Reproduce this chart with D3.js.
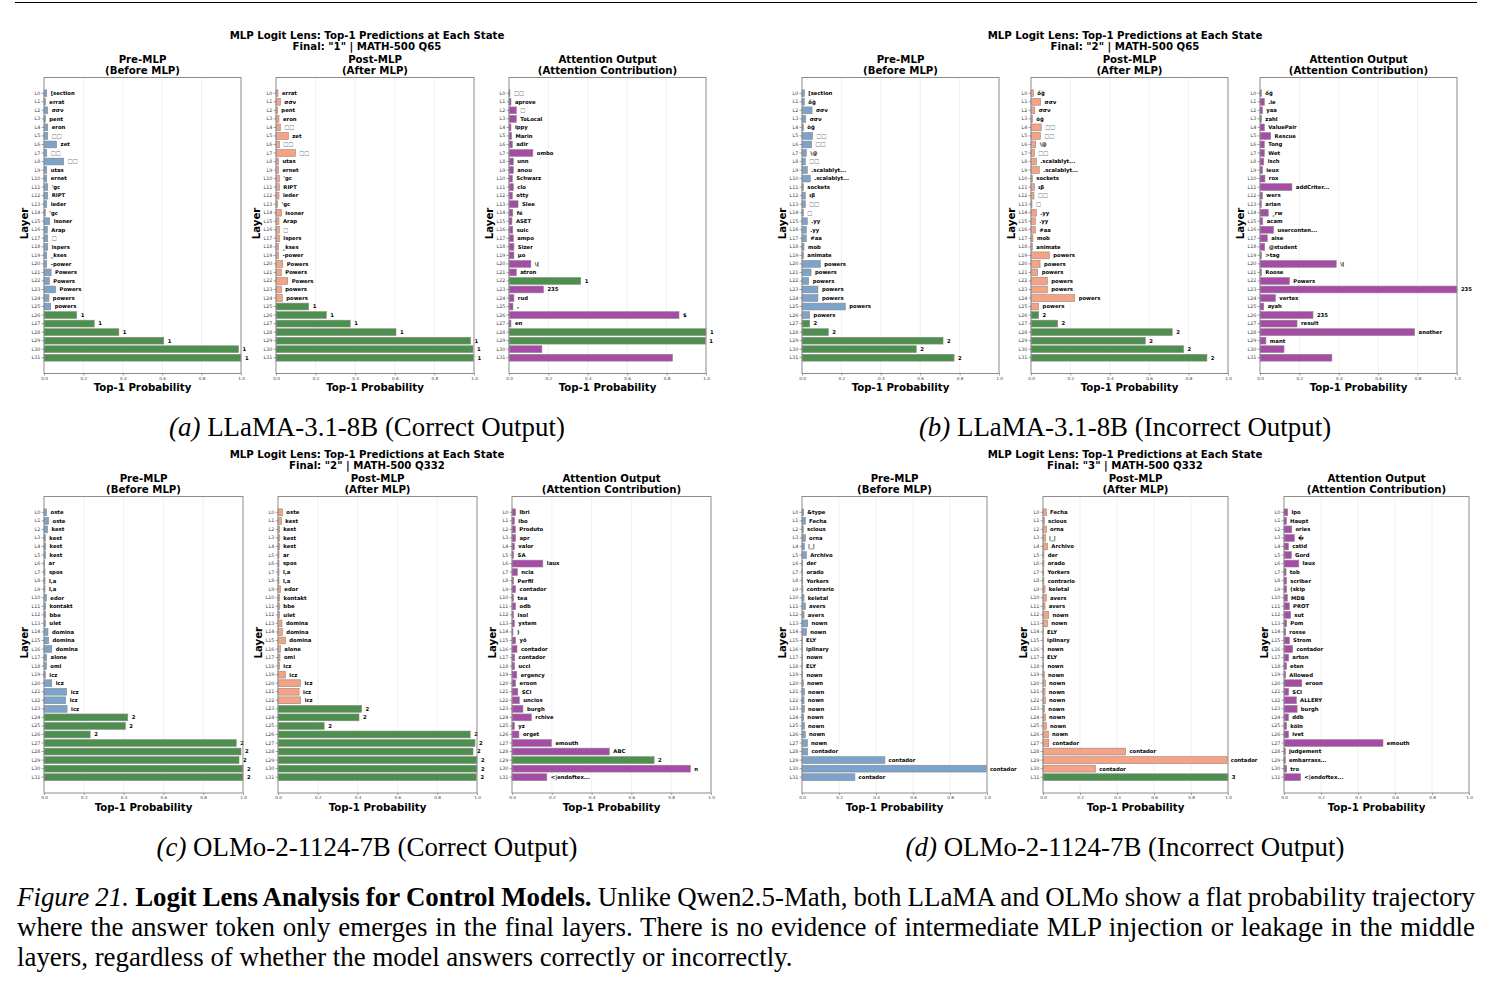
<!DOCTYPE html>
<html>
<head>
<meta charset="utf-8">
<style>
    html, body {
        margin: 0;
        padding: 0;
        background: #ffffff;
    }

    svg {
        display: block;
    }

    .panel text {
        font-family: "DejaVu Sans";
    }

    .caption {
        font-family: "Liberation Serif";
        fill: #000;
    }
</style>
</head>
<body>
<svg id="fig" width="1492" height="988"></svg>

<script src="https://d3js.org/d3.v7.min.js"></script>
<script>
    // ---------- data ----------
    var layerLabels = ["L0", "L1", "L2", "L3", "L4", "L5", "L6", "L7", "L8", "L9", "L10", "L11", "L12", "L13", "L14", "L15",
        "L16", "L17", "L18", "L19", "L20", "L21", "L22", "L23", "L24", "L25", "L26", "L27", "L28", "L29", "L30", "L31"];
    var xTickValues = [0, 0.2, 0.4, 0.6, 0.8, 1.0];

    // (a) LLaMA-3.1-8B, Q65, correct
    var aPreProb = [0.014, 0.007, 0.019, 0.007, 0.019, 0.019, 0.064, 0.014, 0.100, 0.014, 0.014, 0.019, 0.019, 0.014, 0.007, 0.029,
        0.017, 0.019, 0.019, 0.014, 0.014, 0.036, 0.027, 0.059, 0.025, 0.034, 0.166, 0.255, 0.380, 0.608, 0.988, 1.000];
    var aPreTok = ["[section", "errat", "σσν", "pent", "eron", "□□", "zet", "□□", "□□", "utas", "ernet", "'gc", "RIPT", "ieder", "'gc", "isoner",
        "Arap", "□", "ispers", "_kses", "-power", "Powers", "Powers", "Powers", "powers", "powers", "1", "1", "1", "1", "1", "1"];
    var aPostProb = [0.010, 0.022, 0.007, 0.015, 0.022, 0.062, 0.017, 0.098, 0.013, 0.013, 0.017, 0.017, 0.015, 0.008, 0.027, 0.015,
        0.017, 0.017, 0.013, 0.013, 0.034, 0.027, 0.059, 0.027, 0.032, 0.165, 0.254, 0.375, 0.606, 0.983, 0.995, 0.998];
    var aPostTok = ["errat", "σσν", "pent", "eron", "□□", "zet", "□□", "□□", "utas", "ernet", "'gc", "RIPT", "ieder", "'gc", "isoner", "Arap",
        "□", "ispers", "_kses", "-power", "Powers", "Powers", "Powers", "powers", "powers", "1", "1", "1", "1", "1", "1", "1"];
    var aAttnProb = [0.005, 0.010, 0.037, 0.037, 0.010, 0.013, 0.017, 0.121, 0.022, 0.022, 0.017, 0.022, 0.017, 0.046, 0.019, 0.015,
        0.019, 0.022, 0.025, 0.025, 0.111, 0.037, 0.364, 0.175, 0.025, 0.020, 0.863, 0.010, 1.000, 0.997, 0.167, 0.830];
    var aAttnTok = ["□□", "aprove", "□", "ToLocal", "ippy", "Marin", "adir", "ombo", "unn", "anou", "Schwarz", "clo", "otty", "Slee", "fé", "ASET",
        "suic", "ampo", "Sizer", "μο", "\\(", "atron", "1", "235", "rud", ",", "$", "en", "1", "1", "", ""];

    // (b) LLaMA-3.1-8B, Q65, incorrect
    var bPreProb = [0.012, 0.012, 0.051, 0.019, 0.007, 0.054, 0.049, 0.022, 0.017, 0.027, 0.042, 0.007, 0.017, 0.017, 0.007, 0.027,
        0.022, 0.022, 0.010, 0.007, 0.093, 0.046, 0.034, 0.081, 0.081, 0.220, 0.039, 0.039, 0.134, 0.716, 0.580, 0.772];
    var bPreTok = ["[section", "ồğ", "σσν", "σσν", "òğ", "□□", "□□", "\\@", "□□", ".scalablyt...", ".scalablyt...", "sockets", "ιβ", "□□", "□", ".yy",
        ".yy", "#aa", "mob", "animate", "powers", "powers", "powers", "powers", "powers", "powers", "powers", "2", "2", "2", "2", "2"];
    var bPostProb = [0.012, 0.049, 0.019, 0.007, 0.052, 0.047, 0.024, 0.017, 0.027, 0.042, 0.007, 0.017, 0.015, 0.005, 0.027, 0.022,
        0.022, 0.010, 0.007, 0.093, 0.046, 0.034, 0.083, 0.083, 0.222, 0.039, 0.039, 0.135, 0.717, 0.580, 0.775, 0.893];
    var bPostTok = ["ồğ", "σσν", "σσν", "òğ", "□□", "□□", "\\@", "□□", ".scalablyt...", ".scalablyt...", "sockets", "ιβ", "□□", "□", ".yy", ".yy",
        "#aa", "mob", "animate", "powers", "powers", "powers", "powers", "powers", "powers", "powers", "2", "2", "2", "2", "2", "2"];
    var bAttnProb = [0.007, 0.022, 0.012, 0.007, 0.022, 0.054, 0.022, 0.022, 0.019, 0.012, 0.025, 0.162, 0.012, 0.007, 0.042, 0.014,
        0.069, 0.037, 0.024, 0.007, 0.387, 0.007, 0.149, 1.000, 0.078, 0.019, 0.269, 0.188, 0.785, 0.030, 0.122, 0.365];
    var bAttnTok = ["ồğ", ".ie", "yaa", "zahl", "ValuePair", "Rescue", "Tong", "Wet", "isch", "ieux", "rox", "addCriter...", "wers", "arian", "_rw", "acam",
        "userconten...", "aise", "@student", ">tag", "\\(", "Roose", "Powers", "235", "vertex", "ayah", "235", "result", "another", "mant", "", ""];

    // (c) OLMo-2-1124-7B, Q332, correct
    var cPreProb = [0.013, 0.023, 0.018, 0.007, 0.008, 0.008, 0.003, 0.005, 0.005, 0.005, 0.012, 0.008, 0.008, 0.007, 0.020, 0.023,
        0.039, 0.013, 0.012, 0.007, 0.039, 0.114, 0.109, 0.116, 0.421, 0.409, 0.232, 0.966, 0.990, 0.980, 1.000, 1.000];
    var cPreTok = ["oste", "oste", "kest", "kest", "kest", "kest", "ar", "spos", "l,a", "l,a", "edor", "kontakt", "bbe", "ulet", "domina", "domina",
        "domina", "alone", "omi", "icz", "icz", "icz", "icz", "icz", "2", "2", "2", "2", "2", "2", "2", "2"];
    var cPostProb = [0.022, 0.017, 0.007, 0.007, 0.007, 0.005, 0.005, 0.005, 0.005, 0.012, 0.008, 0.007, 0.007, 0.020, 0.022, 0.037,
        0.012, 0.010, 0.007, 0.037, 0.113, 0.106, 0.114, 0.420, 0.407, 0.232, 0.966, 0.990, 0.980, 1.000, 1.000, 0.997];
    var cPostTok = ["oste", "kest", "kest", "kest", "kest", "ar", "spos", "l,a", "l,a", "edor", "kontakt", "bbe", "ulet", "domina", "domina", "domina",
        "alone", "omi", "icz", "icz", "icz", "icz", "icz", "2", "2", "2", "2", "2", "2", "2", "2", "2"];
    var cAttnProb = [0.018, 0.012, 0.017, 0.018, 0.012, 0.008, 0.155, 0.027, 0.008, 0.018, 0.008, 0.018, 0.008, 0.012, 0.005, 0.018,
        0.025, 0.013, 0.013, 0.024, 0.018, 0.029, 0.037, 0.055, 0.097, 0.012, 0.035, 0.198, 0.489, 0.714, 0.896, 0.175];
    var cAttnTok = ["lbri", "ibo", "Produto", "apr", "valor", "SA", "laux", "ncia", "Perfil", "contador", "tea", "odb", "isol", "ystem", ")", "yō",
        "contador", "contador", "ucci", "ergency", "eroon", "SCI", "uncios", "burgh", "rchive", "yz", "orget", "emouth", "ABC", "2", "n", "<|endoftex..."];

    // (d) OLMo-2-1124-7B, Q332, incorrect
    var dPreProb = [0.009, 0.018, 0.007, 0.018, 0.013, 0.024, 0.004, 0.004, 0.004, 0.005, 0.011, 0.018, 0.011, 0.031, 0.024, 0.002,
        0.002, 0.004, 0.002, 0.004, 0.007, 0.013, 0.011, 0.013, 0.009, 0.013, 0.018, 0.029, 0.031, 0.448, 0.996, 0.286];
    var dPreTok = ["&type", "Fecha", "scious", "orna", "|_|", "Archivo", "der", "orado", "Yorkers", "contrario", "keletal", "avers", "avers", "nown", "nown", "ELY",
        "iplinary", "nown", "ELY", "nown", "nown", "nown", "nown", "nown", "nown", "nown", "nown", "nown", "contador", "contador", "contador", "contador"];
    var dPostProb = [0.018, 0.007, 0.018, 0.013, 0.025, 0.005, 0.005, 0.004, 0.005, 0.011, 0.018, 0.011, 0.031, 0.024, 0.002, 0.002,
        0.004, 0.002, 0.004, 0.007, 0.013, 0.011, 0.013, 0.009, 0.013, 0.018, 0.029, 0.031, 0.447, 0.995, 0.284, 1.000];
    var dPostTok = ["Fecha", "scious", "orna", "|_|", "Archivo", "der", "orado", "Yorkers", "contrario", "keletal", "avers", "avers", "nown", "nown", "ELY", "iplinary",
        "nown", "ELY", "nown", "nown", "nown", "nown", "nown", "nown", "nown", "nown", "nown", "contador", "contador", "contador", "contador", "3"];
    var dAttnProb = [0.020, 0.013, 0.042, 0.056, 0.024, 0.040, 0.080, 0.011, 0.014, 0.014, 0.018, 0.029, 0.036, 0.014, 0.009, 0.029,
        0.047, 0.025, 0.013, 0.009, 0.096, 0.025, 0.067, 0.071, 0.024, 0.014, 0.024, 0.535, 0.007, 0.007, 0.014, 0.090];
    var dAttnTok = ["ipo", "Haupt", "ories", "\uFFFD", "catid", "Gord", "laux", "tob", "scriber", "(skip", "MDB", "PROT", "sut", "Pom", "rosse", "Strom",
        "contador", "arton", "eten", "Allowed", "eroon", "SCI", "ALLERY", "burgh", "ddb", "köln", "ivet", "emouth", "judgement", "embarrass...", "tro", "<|endoftex..."];

    var finalAnswers = ["1", "2", "2", "3"];
    var questionIds = ["MATH-500 Q65", "MATH-500 Q65", "MATH-500 Q332", "MATH-500 Q332"];
    var subLetters = ["(a)", "(b)", "(c)", "(d)"];
    var subNames = ["LLaMA-3.1-8B (Correct Output)", "LLaMA-3.1-8B (Incorrect Output)",
        "OLMo-2-1124-7B (Correct Output)", "OLMo-2-1124-7B (Incorrect Output)"];
    var panelTitles = [["Pre-MLP", "(Before MLP)"], ["Post-MLP", "(After MLP)"], ["Attention Output", "(Attention Contribution)"]];
    var captionLines = [
        "Unlike Qwen2.5-Math, both LLaMA and OLMo show a flat probability trajectory",
        "where the answer token only emerges in the final layers. There is no evidence of intermediate MLP injection or leakage in the middle",
        "layers, regardless of whether the model answers correctly or incorrectly."
    ];

    var probs = [[aPreProb, aPostProb, aAttnProb], [bPreProb, bPostProb, bAttnProb],
    [cPreProb, cPostProb, cAttnProb], [dPreProb, dPostProb, dAttnProb]];
    var toks = [[aPreTok, aPostTok, aAttnTok], [bPreTok, bPostTok, bAttnTok],
    [cPreTok, cPostTok, cAttnTok], [dPreTok, dPostTok, dAttnTok]];

    // ---------- layout ----------
    var figLayout = [
        { cx: 367, top: 77.5, bottom: 373.5, capY: 436, axes: [[44, 241], [276, 474], [509, 706]] },
        { cx: 1125, top: 77.5, bottom: 373.5, capY: 436, axes: [[802, 999], [1031, 1228], [1260, 1457]] },
        { cx: 367, top: 496.5, bottom: 793, capY: 856, axes: [[44, 243], [278, 477], [512, 711]] },
        { cx: 1125, top: 496.5, bottom: 793, capY: 856, axes: [[802, 987], [1043, 1228], [1284, 1469]] }
    ];
    var barColors = ["#7ba3cb", "#f6a283", "#a64ca6"];
    var answerColor = "#4d8f4d";
    var titleSize = "10.2px";

    var svg = d3.select("#fig");

    // top rule
    svg.append("line")
        .attr("x1", 15).attr("x2", 1477)
        .attr("y1", 2.5).attr("y2", 2.5)
        .attr("stroke", "#000").attr("stroke-width", 1);

    figLayout.forEach(function (f, fi) {
        var g = svg.append("g").attr("class", "panel");

        // figure titles
        g.append("text")
            .attr("x", f.cx).attr("y", f.top - 39)
            .attr("text-anchor", "middle")
            .style("font-size", titleSize).style("font-weight", "bold")
            .text("MLP Logit Lens: Top-1 Predictions at Each State");
        g.append("text")
            .attr("x", f.cx).attr("y", f.top - 28)
            .attr("text-anchor", "middle")
            .style("font-size", titleSize).style("font-weight", "bold")
            .text("Final: \"" + finalAnswers[fi] + "\" | " + questionIds[fi]);

        f.axes.forEach(function (ax, pi) {
            var x = d3.scaleLinear().domain([0, 1]).range([ax[0], ax[1]]);
            var y = d3.scaleBand()
                .domain(layerLabels)
                .range([f.top, f.bottom])
                .paddingInner(0.2)
                .paddingOuter(1.45);

            var rows = layerLabels.map(function (l, i) {
                return { layer: l, p: probs[fi][pi][i], tok: toks[fi][pi][i] };
            });

            // panel titles
            g.append("text")
                .attr("x", (ax[0] + ax[1]) / 2).attr("y", f.top - 15)
                .attr("text-anchor", "middle")
                .style("font-size", titleSize).style("font-weight", "bold")
                .text(panelTitles[pi][0]);
            g.append("text")
                .attr("x", (ax[0] + ax[1]) / 2).attr("y", f.top - 4)
                .attr("text-anchor", "middle")
                .style("font-size", titleSize).style("font-weight", "bold")
                .text(panelTitles[pi][1]);

            // grid
            g.append("g")
                .selectAll("line")
                .data(xTickValues.slice(1, -1))
                .enter().append("line")
                .attr("x1", d => x(d)).attr("x2", d => x(d))
                .attr("y1", f.top).attr("y2", f.bottom)
                .attr("stroke", "#ececec").attr("stroke-width", 0.8);

            // bars
            g.append("g")
                .selectAll("rect")
                .data(rows)
                .enter().append("rect")
                .attr("x", x(0))
                .attr("y", d => y(d.layer))
                .attr("width", d => x(d.p) - x(0))
                .attr("height", y.bandwidth())
                .attr("fill", d => d.tok === finalAnswers[fi] ? answerColor : barColors[pi])
                .attr("stroke", "#8a8a8a")
                .attr("stroke-width", 0.6);

            // token labels
            g.append("g")
                .selectAll("text")
                .data(rows)
                .enter().append("text")
                .attr("x", d => x(d.p + 0.02))
                .attr("y", d => y(d.layer) + y.bandwidth() / 2)
                .attr("dy", "0.35em")
                .style("font-size", "5.3px")
                .style("font-weight", d => d.tok.indexOf("□") >= 0 ? "normal" : "bold")
                .style("fill", d => d.tok.indexOf("□") >= 0 ? "#777" : "#000")
                .text(d => d.tok);

            // frame
            g.append("rect")
                .attr("x", ax[0]).attr("y", f.top)
                .attr("width", ax[1] - ax[0]).attr("height", f.bottom - f.top)
                .attr("fill", "none")
                .attr("stroke", "#8c8c8c").attr("stroke-width", 1);

            // y axis
            var yAxis = d3.axisLeft(y).tickSize(2.5).tickPadding(1.2);
            var ya = g.append("g")
                .attr("transform", "translate(" + ax[0] + ",0)")
                .call(yAxis);
            ya.select(".domain").remove();
            ya.selectAll("line").attr("stroke", "#666").attr("stroke-width", 0.6);
            ya.selectAll("text").style("font-size", "4.8px").style("fill", "#444").attr("font-family", "DejaVu Sans");

            // x axis
            var xAxis = d3.axisBottom(x).tickValues(xTickValues).tickFormat(d3.format(".1f")).tickSize(2).tickPadding(1.5);
            var xa = g.append("g")
                .attr("transform", "translate(0," + f.bottom + ")")
                .call(xAxis);
            xa.select(".domain").remove();
            xa.selectAll("line").attr("stroke", "#666").attr("stroke-width", 0.6);
            xa.selectAll("text").style("font-size", "4.2px").style("fill", "#444").attr("font-family", "DejaVu Sans");

            // axis labels
            g.append("text")
                .attr("x", (ax[0] + ax[1]) / 2).attr("y", f.bottom + 17.5)
                .attr("text-anchor", "middle")
                .style("font-size", "10.2px").style("font-weight", "bold")
                .text("Top-1 Probability");
            g.append("text")
                .attr("transform", "translate(" + (ax[0] - 16.5) + "," + ((f.top + f.bottom) / 2 - 2) + ") rotate(-90)")
                .attr("text-anchor", "middle")
                .style("font-size", "10.2px").style("font-weight", "bold")
                .text("Layer");
        });

        // sub-figure caption
        var cap = svg.append("text")
            .attr("class", "caption")
            .attr("x", f.cx).attr("y", f.capY)
            .attr("text-anchor", "middle")
            .style("font-size", "26.9px");
        cap.append("tspan").style("font-style", "italic").text(subLetters[fi]);
        cap.append("tspan").text(" " + subNames[fi]);
    });

    // figure caption, justified line by line
    var capLeft = 17, capRight = 1475, capBase = [906, 936, 966];
    captionLines.forEach(function (line, li) {
        var t = svg.append("text")
            .attr("class", "caption")
            .attr("x", capLeft).attr("y", capBase[li])
            .style("font-size", "26.9px")
            .attr("xml:space", "preserve");
        if (li === 0) {
            t.append("tspan").style("font-style", "italic").text("Figure 21. ");
            t.append("tspan").style("font-weight", "bold").text("Logit Lens Analysis for Control Models. ");
        }
        t.append("tspan").text(line);
        if (li < captionLines.length - 1) {
            var full = (li === 0 ? "Figure 21. Logit Lens Analysis for Control Models. " : "") + line;
            var nSpaces = full.split(" ").length - 1;
            var w = t.node().getComputedTextLength();
            t.style("word-spacing", ((capRight - capLeft - w) / nSpaces) + "px");
        }
    });
</script>
</body>
</html>
